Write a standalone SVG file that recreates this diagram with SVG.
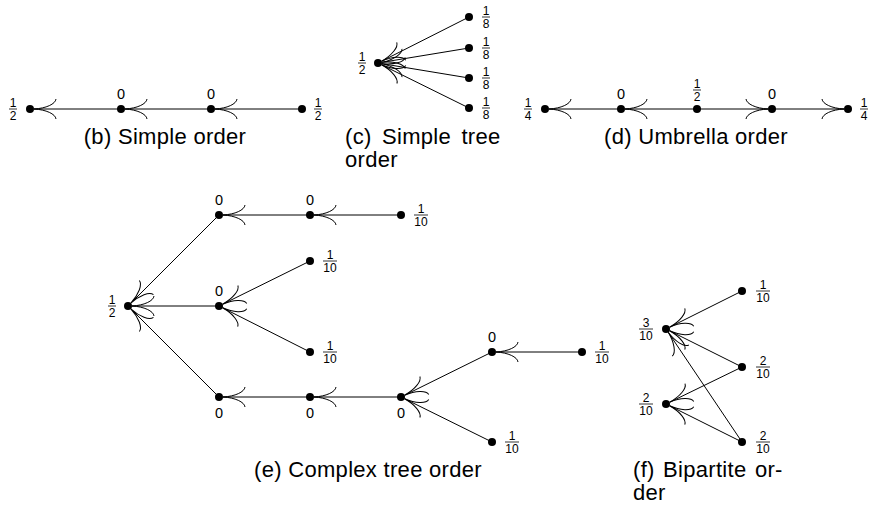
<svg xmlns="http://www.w3.org/2000/svg" width="869" height="507" viewBox="0 0 869 507">
  <style>
    .dot { fill: #000; }
    .edge { stroke: #000; stroke-width: 1; fill: none; marker-end: url(#to); }
    .bar { stroke: #000; stroke-width: 0.8; }
    .lbl { font-family: "Liberation Sans", Arial, sans-serif; font-size: 14.5px; fill: #000; text-anchor: middle; }
    .fr { font-family: "Liberation Sans", Arial, sans-serif; font-size: 12px; fill: #000; text-anchor: middle; }
    .cap { font-family: "Liberation Sans", Arial, sans-serif; font-size: 22px; fill: #000; letter-spacing: 0.3px; }
  </style>
  <defs>
    <!-- curved "to" arrow tip, tip at the origin pointing along +x -->
    <marker id="to" markerUnits="userSpaceOnUse" orient="auto" refX="0" refY="0" markerWidth="30" markerHeight="30" overflow="visible">
      <path d="M -22,-10 C -21.5,-5 -12,-0.6 0,0 C -12,0.6 -21.5,5 -22,10" fill="none" stroke="#000" stroke-width="1"/>
    </marker>
  </defs>

  <!-- connectors -->
  <g id="connectors">
    <!-- (b) simple order -->
    <line class="edge" x1="121" y1="109" x2="34" y2="109"/>
    <line class="edge" x1="211" y1="109" x2="125" y2="109"/>
    <line class="edge" x1="302" y1="109" x2="215" y2="109"/>
    <!-- (c) simple tree order -->
    <line class="edge" x1="469" y1="17" x2="381.6" y2="61.2"/>
    <line class="edge" x1="469" y1="48" x2="381.9" y2="62.35"/>
    <line class="edge" x1="469" y1="78" x2="381.9" y2="63.65"/>
    <line class="edge" x1="469" y1="108" x2="381.6" y2="64.8"/>
    <!-- (d) umbrella order -->
    <line class="edge" x1="621" y1="109" x2="549" y2="109"/>
    <line class="edge" x1="697" y1="109" x2="625" y2="109"/>
    <line class="edge" x1="697" y1="109" x2="768" y2="109"/>
    <line class="edge" x1="772" y1="109" x2="844" y2="109"/>
    <!-- (e) complex tree order -->
    <line class="edge" x1="219" y1="215" x2="130.83" y2="303.17"/>
    <line class="edge" x1="219" y1="306" x2="132" y2="306"/>
    <line class="edge" x1="219" y1="397" x2="130.83" y2="308.83"/>
    <line class="edge" x1="310" y1="215" x2="223" y2="215"/>
    <line class="edge" x1="401" y1="215" x2="314" y2="215"/>
    <line class="edge" x1="310" y1="261" x2="222.59" y2="304.23"/>
    <line class="edge" x1="310" y1="352" x2="222.57" y2="307.8"/>
    <line class="edge" x1="310" y1="397" x2="223" y2="397"/>
    <line class="edge" x1="401" y1="397" x2="314" y2="397"/>
    <line class="edge" x1="492" y1="352" x2="404.59" y2="395.23"/>
    <line class="edge" x1="492" y1="442" x2="404.59" y2="398.77"/>
    <line class="edge" x1="582" y1="352" x2="496" y2="352"/>
    <!-- (f) bipartite order -->
    <line class="edge" x1="742" y1="291" x2="669.58" y2="327.21"/>
    <line class="edge" x1="742" y1="367" x2="669.58" y2="330.79"/>
    <line class="edge" x1="742" y1="442" x2="668.23" y2="332.32"/>
    <line class="edge" x1="742" y1="367" x2="669.6" y2="402.25"/>
    <line class="edge" x1="742" y1="442" x2="669.58" y2="405.79"/>
  </g>

  <!-- (b) simple order -->
  <g id="b1"><circle class="dot" cx="30" cy="109" r="4"/>
    <text class="fr" x="13" y="106.5">1</text><line class="bar" x1="9" y1="109" x2="17" y2="109"/><text class="fr" x="13" y="120">2</text></g>
  <g id="b2"><circle class="dot" cx="121" cy="109" r="4"/><text class="lbl" x="121" y="98.5">0</text></g>
  <g id="b3"><circle class="dot" cx="211" cy="109" r="4"/><text class="lbl" x="211" y="98.5">0</text></g>
  <g id="b4"><circle class="dot" cx="302" cy="109" r="4"/>
    <text class="fr" x="318" y="106.5">1</text><line class="bar" x1="314" y1="109" x2="322" y2="109"/><text class="fr" x="318" y="120">2</text></g>

  <!-- (c) simple tree order -->
  <g id="c0"><circle class="dot" cx="378" cy="63" r="4"/>
    <text class="fr" x="362" y="60.5">1</text><line class="bar" x1="358" y1="63" x2="366" y2="63"/><text class="fr" x="362" y="74">2</text></g>
  <g id="c1"><circle class="dot" cx="469" cy="17" r="4"/>
    <text class="fr" x="486" y="14.5">1</text><line class="bar" x1="482" y1="17" x2="490" y2="17"/><text class="fr" x="486" y="28">8</text></g>
  <g id="c2"><circle class="dot" cx="469" cy="48" r="4"/>
    <text class="fr" x="486" y="45.5">1</text><line class="bar" x1="482" y1="48" x2="490" y2="48"/><text class="fr" x="486" y="59">8</text></g>
  <g id="c3"><circle class="dot" cx="469" cy="78" r="4"/>
    <text class="fr" x="486" y="75.5">1</text><line class="bar" x1="482" y1="78" x2="490" y2="78"/><text class="fr" x="486" y="89">8</text></g>
  <g id="c4"><circle class="dot" cx="469" cy="108" r="4"/>
    <text class="fr" x="486" y="105.5">1</text><line class="bar" x1="482" y1="108" x2="490" y2="108"/><text class="fr" x="486" y="119">8</text></g>

  <!-- (d) umbrella order -->
  <g id="d1"><circle class="dot" cx="545" cy="109" r="4"/>
    <text class="fr" x="528" y="106.5">1</text><line class="bar" x1="524" y1="109" x2="532" y2="109"/><text class="fr" x="528" y="120">4</text></g>
  <g id="d2"><circle class="dot" cx="621" cy="109" r="4"/><text class="lbl" x="621" y="98.5">0</text></g>
  <g id="d3"><circle class="dot" cx="697" cy="109" r="4"/>
    <text class="fr" x="697" y="87.5">1</text><line class="bar" x1="693" y1="90" x2="701" y2="90"/><text class="fr" x="697" y="101">2</text></g>
  <g id="d4"><circle class="dot" cx="772" cy="109" r="4"/><text class="lbl" x="772" y="98.5">0</text></g>
  <g id="d5"><circle class="dot" cx="848" cy="109" r="4"/>
    <text class="fr" x="864" y="106.5">1</text><line class="bar" x1="860" y1="109" x2="868" y2="109"/><text class="fr" x="864" y="120">4</text></g>

  <!-- (e) complex tree order -->
  <g id="eR"><circle class="dot" cx="128" cy="306" r="4"/>
    <text class="fr" x="112" y="303.5">1</text><line class="bar" x1="108" y1="306" x2="116" y2="306"/><text class="fr" x="112" y="317">2</text></g>
  <g id="eA"><circle class="dot" cx="219" cy="215" r="4"/><text class="lbl" x="219" y="204.5">0</text></g>
  <g id="eB"><circle class="dot" cx="310" cy="215" r="4"/><text class="lbl" x="310" y="204.5">0</text></g>
  <g id="eC"><circle class="dot" cx="401" cy="215" r="4"/>
    <text class="fr" x="421" y="212.5">1</text><line class="bar" x1="414" y1="215" x2="428" y2="215"/><text class="fr" x="421" y="226">10</text></g>
  <g id="eM"><circle class="dot" cx="219" cy="306" r="4"/><text class="lbl" x="219" y="295.5">0</text></g>
  <g id="eM1"><circle class="dot" cx="310" cy="261" r="4"/>
    <text class="fr" x="330" y="258.5">1</text><line class="bar" x1="323" y1="261" x2="337" y2="261"/><text class="fr" x="330" y="272">10</text></g>
  <g id="eM2"><circle class="dot" cx="310" cy="352" r="4"/>
    <text class="fr" x="330" y="349.5">1</text><line class="bar" x1="323" y1="352" x2="337" y2="352"/><text class="fr" x="330" y="363">10</text></g>
  <g id="eD"><circle class="dot" cx="219" cy="397" r="4"/><text class="lbl" x="219" y="418">0</text></g>
  <g id="eE"><circle class="dot" cx="310" cy="397" r="4"/><text class="lbl" x="310" y="418">0</text></g>
  <g id="eF"><circle class="dot" cx="401" cy="397" r="4"/><text class="lbl" x="401" y="418">0</text></g>
  <g id="eG"><circle class="dot" cx="492" cy="352" r="4"/><text class="lbl" x="492" y="341.5">0</text></g>
  <g id="eH"><circle class="dot" cx="492" cy="442" r="4"/>
    <text class="fr" x="512" y="439.5">1</text><line class="bar" x1="505" y1="442" x2="519" y2="442"/><text class="fr" x="512" y="453">10</text></g>
  <g id="eI"><circle class="dot" cx="582" cy="352" r="4"/>
    <text class="fr" x="602" y="349.5">1</text><line class="bar" x1="595" y1="352" x2="609" y2="352"/><text class="fr" x="602" y="363">10</text></g>

  <!-- (f) bipartite order -->
  <g id="fL1"><circle class="dot" cx="666" cy="329" r="4"/>
    <text class="fr" x="646" y="326.5">3</text><line class="bar" x1="639" y1="329" x2="653" y2="329"/><text class="fr" x="646" y="340">10</text></g>
  <g id="fL2"><circle class="dot" cx="666" cy="404" r="4"/>
    <text class="fr" x="646" y="401.5">2</text><line class="bar" x1="639" y1="404" x2="653" y2="404"/><text class="fr" x="646" y="415">10</text></g>
  <g id="fR1"><circle class="dot" cx="742" cy="291" r="4"/>
    <text class="fr" x="763" y="288.5">1</text><line class="bar" x1="756" y1="291" x2="770" y2="291"/><text class="fr" x="763" y="302">10</text></g>
  <g id="fR2"><circle class="dot" cx="742" cy="367" r="4"/>
    <text class="fr" x="763" y="364.5">2</text><line class="bar" x1="756" y1="367" x2="770" y2="367"/><text class="fr" x="763" y="378">10</text></g>
  <g id="fR3"><circle class="dot" cx="742" cy="442" r="4"/>
    <text class="fr" x="763" y="439.5">2</text><line class="bar" x1="756" y1="442" x2="770" y2="442"/><text class="fr" x="763" y="453">10</text></g>

  <!-- sub-captions -->
  <g id="captions">
    <text class="cap" x="165" y="144" text-anchor="middle">(b) Simple order</text>
    <text class="cap" x="345" y="144" word-spacing="4">(c) Simple tree</text>
    <text class="cap" x="345" y="167">order</text>
    <text class="cap" x="696" y="144" text-anchor="middle">(d) Umbrella order</text>
    <text class="cap" x="368" y="477" text-anchor="middle">(e) Complex tree order</text>
    <text class="cap" x="633" y="477" word-spacing="2">(f) Bipartite or-</text>
    <text class="cap" x="633" y="500">der</text>
  </g>
</svg>
